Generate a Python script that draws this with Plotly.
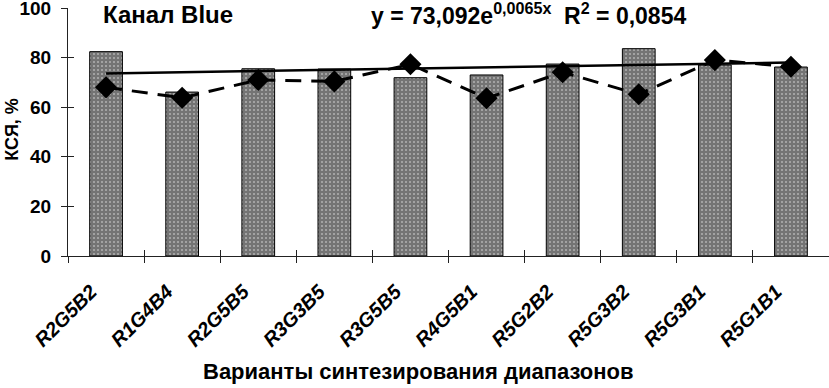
import plotly.graph_objects as go

categories = ["R2G5B2", "R1G4B4", "R2G5B5", "R3G3B5", "R3G5B5",
              "R4G5B1", "R5G2B2", "R5G3B2", "R5G3B1", "R5G1B1"]
bar_values = [82.4, 66.1, 75.5, 75.4, 71.9, 73.0, 77.4, 83.6, 77.0, 76.2]
line_values = [68.0, 63.8, 71.0, 70.4, 77.3, 63.6, 74.1, 65.2, 79.0, 76.3]
trend_values = [73.6, 74.1, 74.6, 75.0, 75.5, 76.0, 76.5, 77.0, 77.5, 78.0]
y_ticks = [0, 20, 40, 60, 80, 100]

FONT = "Liberation Sans, Arial, sans-serif"

fig = go.Figure()
fig.add_trace(go.Bar(
    x=categories, y=bar_values, width=0.43,
    marker=dict(color="#7a7a7a",
                line=dict(color="black", width=1),
                pattern=dict(shape=".", fgcolor="#f0f0f0", bgcolor="#747474",
                             size=4, solidity=0.2)),
    showlegend=False,
))
fig.add_trace(go.Scatter(
    x=categories, y=trend_values, mode="lines",
    line=dict(color="black", width=2.5), showlegend=False,
))
fig.add_trace(go.Scatter(
    x=categories, y=line_values, mode="lines+markers",
    line=dict(color="black", width=3, dash="16px,10px"),
    marker=dict(symbol="diamond", size=17, color="black"),
    showlegend=False,
))
# overlay axes used for the inner half of the crossing tick marks
boundaries = [i - 0.5 for i in range(len(categories) + 1)]
fig.add_trace(go.Scatter(x=[boundaries[0]], y=[0], xaxis="x2", yaxis="y2",
                         mode="markers", marker=dict(opacity=0),
                         showlegend=False, hoverinfo="skip"))

fig.update_layout(
    width=829, height=388,
    margin=dict(l=68, r=0, t=8, b=132),
    paper_bgcolor="white", plot_bgcolor="white",
    font=dict(family=FONT, color="black"),
    xaxis=dict(
        type="category", range=[-0.5, 9.5], automargin=False,
        showline=True, linecolor="#222", linewidth=1,
        ticks="outside", ticklen=6, tickcolor="#222", tickson="boundaries",
        tickangle=-45,
        tickfont=dict(size=20, family=FONT, style="italic", weight="bold"),
        ticklabelstandoff=15, ticklabelshift=-15,
        showgrid=False, zeroline=False,
    ),
    yaxis=dict(
        range=[0, 100], tickvals=y_ticks, automargin=False,
        showline=True, linecolor="#222", linewidth=1,
        ticks="outside", ticklen=6, tickcolor="#222",
        tickfont=dict(size=19, family=FONT, weight="bold"),
        ticklabelstandoff=6, ticklabeloverflow="allow",
        showgrid=False, zeroline=False,
    ),
    xaxis2=dict(overlaying="x", range=[-0.5, 9.5], tickvals=boundaries,
                ticks="inside", ticklen=6, tickcolor="#222", automargin=False,
                showticklabels=False, showgrid=False, zeroline=False,
                showline=False, anchor="y2"),
    yaxis2=dict(overlaying="y", range=[0, 100], tickvals=y_ticks,
                ticks="inside", ticklen=6, tickcolor="#222", automargin=False,
                showticklabels=False, showgrid=False, zeroline=False,
                showline=False, anchor="x2"),
    annotations=[
        dict(text="<b>Канал Blue</b>", xref="paper", yref="paper",
             x=0.044, y=0.975, xanchor="left", yanchor="middle",
             showarrow=False, font=dict(size=24, family=FONT)),
        dict(text="<b>y = 73,092e<sup>0,0065x</sup>  R<sup>2</sup> = 0,0854</b>",
             xref="paper", yref="paper",
             x=0.3955, y=1.046, xanchor="left", yanchor="top",
             showarrow=False, font=dict(size=23, family=FONT)),
        dict(text="<b>Варианты синтезирования диапазонов</b>",
             xref="paper", yref="paper", x=0.1747, y=-0.464,
             xanchor="left", yanchor="middle", showarrow=False,
             font=dict(size=22, family=FONT)),
        dict(text="<b>КСЯ, %</b>", xref="paper", yref="paper",
             x=-0.0745, y=0.51, xanchor="center", yanchor="middle",
             textangle=-90, showarrow=False,
             font=dict(size=18, family=FONT)),
    ],
)

# remove the browser's default 8px body margin so the figure fills the window
fig.write_html("out.html", config={"displayModeBar": False},
               post_script="document.body.style.margin='0px';")
